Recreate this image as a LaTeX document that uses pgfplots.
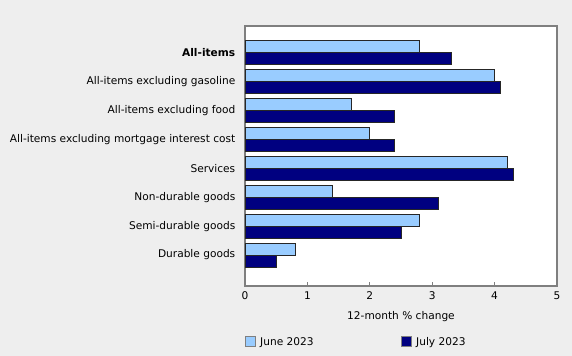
\documentclass[border=0pt]{standalone}
\usepackage{pgfplots}
\pgfplotsset{compat=1.18}
\usepackage{fontspec}
\setmainfont{DejaVu Sans}
\definecolor{bg}{HTML}{EEEEEE}
\definecolor{june}{HTML}{99CCFF}
\definecolor{july}{HTML}{000080}
\definecolor{frame}{HTML}{7F7F7F}
\begin{document}
\fontsize{10.6bp}{12bp}\selectfont
\begin{tikzpicture}
\fill[bg] (0,0) rectangle (572bp,356bp);
\useasboundingbox (0,0) rectangle (572bp,356bp);
\begin{axis}[
  at={(245bp,70bp)}, anchor=south west, scale only axis,
  width=312bp, height=260bp,
  xbar, bar width=0.41,
  xmin=0, xmax=5, ymin=-1.07, ymax=7.916,
  axis background/.style={fill=white},
  axis line style={frame, line width=1.5bp},
  xtick={0,1,2,3,4,5}, ytick={0,1,2,3,4,5,6,7},
  yticklabels={Durable goods, Semi-durable goods, Non-durable goods, Services, All-items excluding mortgage interest cost, All-items excluding food, All-items excluding gasoline, \textbf{All-items}},
  y tick style={draw=none},
  x tick style={frame, line width=1bp},
  xtick pos=lower, tick align=inside, major tick length=4bp,
  /pgf/number format/assume math mode=true,
  yticklabel style={xshift=-6bp},
  xticklabel style={yshift=-2bp},
  xlabel={12-month \% change},
  xlabel style={yshift=-4bp},
  legend style={at={(0,-0.215)}, anchor=west, draw=none, fill=none,
    legend columns=2, inner xsep=0pt, inner ysep=0pt,
    nodes={inner sep=0pt, anchor=west},
    /tikz/every even column/.append style={column sep=0pt}},
  legend image code/.code={\draw[#1, draw=frame, line width=1bp] (0bp,-5bp) rectangle (10bp,5bp);},
]
\addplot[fill=june, draw=black!85, line width=0.8bp, bar shift=0.205] coordinates {
  (2.8,7) (4.0,6) (1.7,5) (2.0,4) (4.2,3) (1.4,2) (2.8,1) (0.8,0)};
\addlegendentry{\hspace{4bp}\makebox[141bp][l]{June 2023}}
\addplot[fill=july, draw=black!85, line width=0.8bp, bar shift=-0.205] coordinates {
  (3.3,7) (4.1,6) (2.4,5) (2.4,4) (4.3,3) (3.1,2) (2.5,1) (0.5,0)};
\addlegendentry{\hspace{4bp}July 2023}
\end{axis}
\end{tikzpicture}
\end{document}
